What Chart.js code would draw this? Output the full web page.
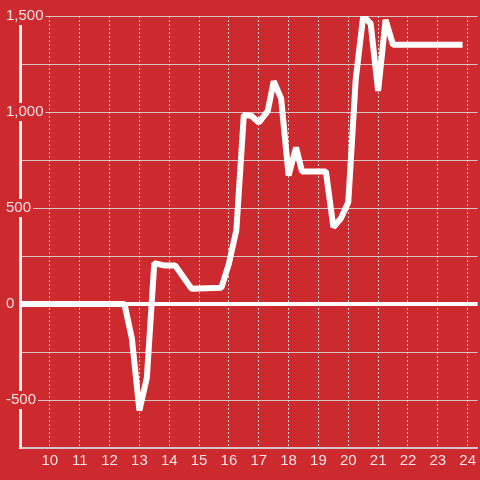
<!DOCTYPE html>
<html>
<head>
<meta charset="utf-8">
<script src="https://cdn.jsdelivr.net/npm/chart.js@4/dist/chart.umd.min.js"></script>
<style>
  html, body { margin: 0; padding: 0; background: #cc2a2f; }
  #wrap { width: 480px; height: 480px; }
</style>
</head>
<body>
<div id="wrap"><canvas id="c" width="480" height="480"></canvas></div>
<script>
const xValues = [9.0, 12.5, 12.75, 13.0, 13.25, 13.5, 13.85, 14.2, 14.75, 15.75, 16.0, 16.25, 16.5, 16.75, 17.0, 17.3, 17.5, 17.75, 18.0, 18.25, 18.45, 19.25, 19.5, 19.75, 20.0, 20.25, 20.5, 20.75, 21.0, 21.25, 21.5, 23.83];
const yValues = [0, 0, -180, -555, -385, 213, 200, 200, 80, 85, 210, 385, 985, 980, 945, 1005, 1160, 1070, 670, 815, 690, 690, 400, 445, 530, 1170, 1500, 1460, 1110, 1480, 1350, 1350];
const xTicks = [10, 11, 12, 13, 14, 15, 16, 17, 18, 19, 20, 21, 22, 23, 24];
const yLabelTicks = [-500, 0, 500, 1000, 1500];

const BG = '#cc2a2f';
const TEXT = 'rgba(255,240,240,0.92)';
const FONT = { family: '"Liberation Sans", Arial, sans-serif', size: 15 };

const points = xValues.map((x, i) => ({ x: x, y: yValues[i] }));

new Chart(document.getElementById('c'), {
  type: 'line',
  data: {
    datasets: [{
      data: points,
      borderColor: '#ffffff',
      borderWidth: 6,
      borderJoinStyle: 'bevel',
      pointRadius: 0,
      tension: 0,
      fill: false
    }]
  },
  options: {
    responsive: false,
    animation: false,
    devicePixelRatio: 1,
    layout: { padding: { left: 4, top: 16, right: 0, bottom: 0 } },
    plugins: { legend: { display: false }, tooltip: { enabled: false } },
    scales: {
      x: {
        type: 'linear',
        min: 9,
        max: 24.3333,
        afterBuildTicks: (s) => { s.ticks = xTicks.map(v => ({ value: v })); },
        afterFit: (s) => { s.height = 32; },
        ticks: {
          stepSize: 1,
          color: TEXT,
          font: FONT,
          padding: 4,
          maxRotation: 0,
          autoSkip: false
        },
        grid: {
          drawTicks: false,
          color: 'rgba(240,225,225,0.9)',
          lineWidth: 1
        },
        border: { display: true, color: '#d0c8c8', width: 1.5, dash: [2, 2] }
      },
      y: {
        type: 'linear',
        min: -750,
        max: 1500,
        afterFit: (s) => { s.width = 16; },
        ticks: {
          stepSize: 250,
          color: TEXT,
          font: FONT,
          mirror: true,
          crossAlign: 'near',
          padding: -14,
          callback: (v) => yLabelTicks.includes(v) ? v.toLocaleString('en-US') : '',
          showLabelBackdrop: (ctx) => yLabelTicks.includes(ctx.tick.value),
          backdropColor: (ctx) => yLabelTicks.includes(ctx.tick.value) ? BG : 'rgba(0,0,0,0)',
          backdropPadding: { left: 2, right: 2, top: 0, bottom: 0 }
        },
        grid: {
          drawTicks: false,
          color: (ctx) => ctx.tick && ctx.tick.value === 0 ? '#ffffff' : 'rgba(215,205,205,0.95)',
          lineWidth: (ctx) => ctx.tick && ctx.tick.value === 0 ? 4 : 1
        },
        border: { display: true, color: '#f4efef', width: 3 }
      }
    }
  }
});
</script>
</body>
</html>
